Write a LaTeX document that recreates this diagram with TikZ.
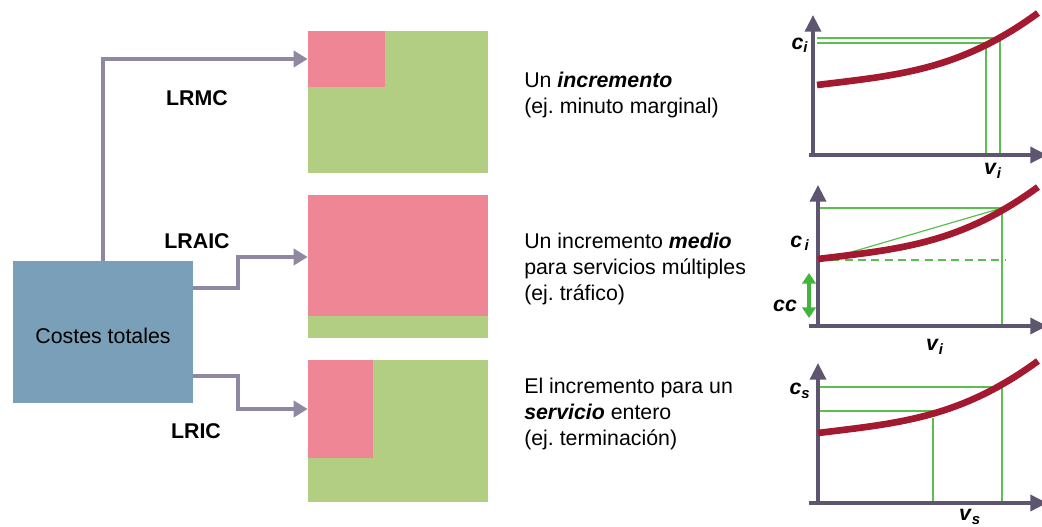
\documentclass[tikz,border=0pt]{standalone}
\usepackage{fontspec}
\setmainfont{Liberation Sans}
\usepackage{xcolor}
\usetikzlibrary{arrows.meta}
\usetikzlibrary{positioning}
\definecolor{boxblue}{HTML}{7A9FB8}
\definecolor{incpink}{HTML}{EE8696}
\definecolor{basegreen}{HTML}{B2CE82}
\definecolor{flowgray}{HTML}{9088A0}
\definecolor{axisgray}{HTML}{5E5570}
\definecolor{curvered}{HTML}{A3192F}
\definecolor{guidegreen}{HTML}{5CBD50}
\definecolor{ccgreen}{HTML}{3FB63A}
\newcommand{\bivar}[2]{\textbf{\textit{#1}}\textsubscript{\textbf{\textit{#2}}}}
\frenchspacing

\begin{document}
\begin{tikzpicture}[x=0.75pt,y=-0.75pt,font=\fontsize{16}{19.5}\selectfont]
    \tikzstyle{costbox} = [rectangle, fill=boxblue, minimum width=135pt, minimum height=106.5pt, inner sep=0pt]
    \tikzstyle{basebox} = [rectangle, fill=basegreen, minimum width=135pt, minimum height=106.5pt, inner sep=0pt]
    \tikzstyle{flow} = [-{Triangle[length=10.5pt,width=12pt]}, flowgray, line width=3pt]
    \tikzstyle{axis} = [-{Triangle[length=12.5pt,width=12pt]}, axisgray, line width=2.6pt]
    \tikzstyle{costcurve} = [curvered, line width=5pt]
    \tikzstyle{guide} = [guidegreen, line width=0.9pt]
    \tikzstyle{descr} = [anchor=west, align=left, inner sep=0pt]
    \tikzstyle{method} = [font=\fontsize{16}{19.5}\selectfont\bfseries]
    \useasboundingbox (0,0) rectangle (1042,527);
        %%% total costs %%%
        \node[costbox] (costes) at (103,332) {\raisebox{-8.7pt}[0pt][0pt]{Costes totales}};
        %%% increment boxes
        \node[basebox] (incbox) at (398,102) {};
        \node[basebox,below=16.5pt] (avgbox) at (incbox.south) {};
        \node[basebox,below=16.5pt] (srvbox) at (avgbox.south) {};
        \fill[incpink] (incbox.north west) rectangle ++(77,56);
        \fill[incpink] (avgbox.north west) rectangle ++(180,121);
        \fill[incpink] (srvbox.north west) rectangle ++(65,98);
        %%% connections
        \coordinate (inc in) at (incbox.west |- 0,59);
        \coordinate (avg in) at (avgbox.west |- 0,257);
        \coordinate (srv in) at (srvbox.west |- 0,409);
        \coordinate (avg out) at (costes.east |- 0,288);
        \coordinate (srv out) at (costes.east |- 0,376);
        \draw[flow] (costes.north) |- (inc in);
        \draw[flow] (avg out) -- ++(45,0) |- (avg in);
        \draw[flow] (srv out) -- ++(45,0) |- (srv in);
        %%% labels
        \node[method] (lrmc) at (197,98) {LRMC};
        \node[method] (lraic) at (197,241) {LRAIC};
        \node[method] (lric) at (196,431) {LRIC};
        \node[descr] (incdesc) at (524,95) {Un \textbf{\textit{incremento}}\\(ej. minuto marginal)};
        \node[descr] (avgdesc) at (524,269) {Un incremento \textbf{\textit{medio}}\\para servicios múltiples\\(ej. tráfico)};
        \node[descr] (srvdesc) at (524,414) {El incremento para un\\\textbf{\textit{servicio}} entero\\(ej. terminación)};
        %%% chart 1 %%%
        \coordinate (o1) at (813,155);
        \draw[guide] (817,38) -- (1000,38) -- (1000,155);
        \draw[guide] (817,43) -- (986,43) -- (986,155);
        \draw[axis] (o1 |- 0,157) -- (813,15);
        \draw[axis] (o1 -| 809,0) -- (1047,155);
        \draw[costcurve] (817,85) .. controls (900,75) and (960,70) .. (1038,13);
        \node (c1) at (800,45) {\bivar{c}{i}};
        \node (v1) at (993,171) {\bivar{v}{i}};
        %%% chart 2 %%%
        \coordinate (o2) at (818,326);
        \draw[guide] (818,208) -- (1002,208) -- (1002,326);
        \draw[guide] (848,253) -- (1002,208);
        \draw[guidegreen, line width=1.8pt, dash pattern=on 6pt off 4pt] (818,260) -- (1005,260);
        \draw[axis] (o2 |- 0,328) -- (818,185);
        \draw[axis] (o2 -| 809,0) -- (1047,326);
        \draw[costcurve] (818,259) .. controls (900,249) and (960,244) .. (1038,187);
        \draw[{Triangle[length=8pt,width=10pt]}-{Triangle[length=8pt,width=10pt]}, ccgreen, line width=2.5pt] (809,273) -- (809,318);
        \node (c2) at (800,243) {\bivar{c}{\,i}};
        \node (cc) at (785,306) {\textbf{\textit{cc}}};
        \node (v2) at (935,347) {\bivar{v}{i}};
        %%% chart 3 %%%
        \coordinate (o3) at (818,503);
        \draw[guide] (818,387) -- (1002,387) -- (1002,503);
        \draw[guide] (818,411) -- (933,411);
        \draw[guide] (933,418) -- (933,503);
        \draw[axis] (o3 |- 0,505) -- (818,363);
        \draw[axis] (o3 -| 809,0) -- (1047,503);
        \draw[costcurve] (818,433) .. controls (900,423) and (960,418) .. (1038,361);
        \node (c3) at (800,391) {\bivar{c}{s}};
        \node (v3) at (970,517) {\bivar{v}{s}};
\end{tikzpicture}
\end{document}
